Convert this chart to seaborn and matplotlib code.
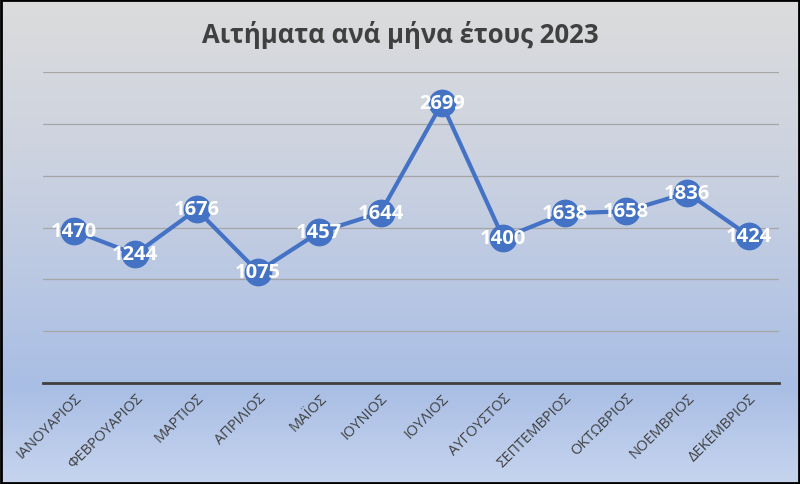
import numpy as np
import pandas as pd
import matplotlib
matplotlib.use("Agg")
import matplotlib.pyplot as plt
from matplotlib.colors import LinearSegmentedColormap
import seaborn as sns

# Δεδομένα
months = ["ΙΑΝΟΥΑΡΙΟΣ", "ΦΕΒΡΟΥΑΡΙΟΣ", "ΜΑΡΤΙΟΣ", "ΑΠΡΙΛΙΟΣ", "ΜΑΪΟΣ", "ΙΟΥΝΙΟΣ",
          "ΙΟΥΛΙΟΣ", "ΑΥΓΟΥΣΤΟΣ", "ΣΕΠΤΕΜΒΡΙΟΣ", "ΟΚΤΩΒΡΙΟΣ", "ΝΟΕΜΒΡΙΟΣ", "ΔΕΚΕΜΒΡΙΟΣ"]
requests = [1470, 1244, 1676, 1075, 1457, 1644, 2699, 1400, 1638, 1658, 1836, 1424]
title = "Αιτήματα ανά μήνα έτους 2023"

df = pd.DataFrame({"month": months, "requests": requests, "pos": range(len(months))})

sns.set_theme(style="white")
plt.rcParams["font.family"] = ["Open Sans", "DejaVu Sans"]

fig = plt.figure(figsize=(8, 4.85), dpi=100)

# Φόντο με διαβάθμιση
bg = fig.add_axes([0, 0, 1, 1], zorder=0)
cmap = LinearSegmentedColormap.from_list(
    "bg", [(0.0, "#dcdcdc"), (0.35, "#cbd2e0"), (0.8, "#a9bee5"), (1.0, "#c6d4ee")])
bg.imshow(np.linspace(0, 1, 256).reshape(-1, 1), aspect="auto", cmap=cmap,
          extent=[0, 1, 0, 1], origin="upper")
bg.set_xlim(0, 1)
bg.set_ylim(0, 1)
bg.axis("off")
fig.patches.append(plt.Rectangle((0.0015, 0.0025), 0.997, 0.995, transform=fig.transFigure,
                                 fill=False, edgecolor="black", linewidth=2, zorder=10))

ax = fig.add_axes([0.054, 0.208, 0.92, 0.641], zorder=1)
ax.patch.set_alpha(0)

sns.lineplot(data=df, x="pos", y="requests", ax=ax, color="#4472c4", linewidth=3,
             marker="o", markersize=20, markeredgewidth=0, zorder=3)

for x, y in zip(df["pos"], df["requests"]):
    ax.text(x, y, str(y), ha="center", va="center", color="white",
            fontsize=14.5, fontweight="bold", zorder=4)

ax.set_xlim(-0.5, len(months) - 0.5)
ax.set_ylim(0, 3000)
ax.set_yticks(np.arange(0, 3001, 500))
ax.set_yticklabels([])
ax.tick_params(axis="y", length=0)
ax.yaxis.grid(True, color="#a6a6a6", linewidth=0.9)
ax.set_axisbelow(True)

ax.set_xticks(df["pos"])
ax.set_xticklabels(months, rotation=45, ha="right", rotation_mode="anchor",
                   fontsize=10.5, color="#404040")
ax.tick_params(axis="x", length=0, pad=5)

for s in ["top", "right", "left"]:
    ax.spines[s].set_visible(False)
ax.spines["bottom"].set_color("#404040")
ax.spines["bottom"].set_linewidth(2)

ax.set_xlabel("")
ax.set_ylabel("")

fig.text(0.5, 0.928, title, ha="center", va="center", fontsize=18.5,
         fontweight="bold", color="#404040")

fig.savefig("out.png", dpi=100)
